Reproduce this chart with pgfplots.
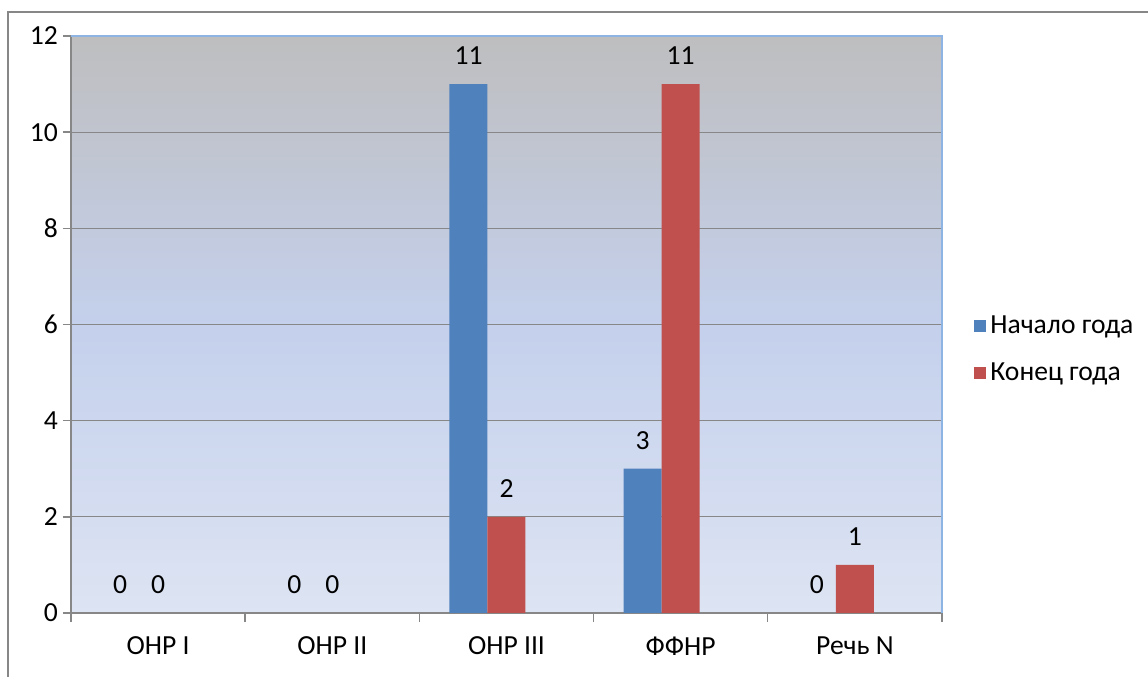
\documentclass[border=0pt]{standalone}
\usepackage{pgfplots}
\pgfplotsset{compat=1.18}
\usepackage{fontspec}
\setmainfont{Carlito}
\definecolor{barblue}{HTML}{4F81BD}
\definecolor{barred}{HTML}{C0504D}
\definecolor{gridgray}{HTML}{878787}
\definecolor{bordblue}{HTML}{8EB4E3}
\definecolor{bgtop}{RGB}{190,190,191}
\definecolor{bgmid}{RGB}{196,208,236}
\definecolor{bgbot}{RGB}{221,228,243}
\begin{document}
\begin{tikzpicture}[font=\fontsize{13.8bp}{16bp}\selectfont]
\path[use as bounding box] (-35.5bp,-32bp) rectangle (538.5bp,306.5bp);
\draw[gridgray, line width=1.2bp] (-31.5bp,-40bp) -- (-31.5bp,300.5bp) -- (545bp,300.5bp);
\begin{axis}[
  at={(0,0)}, anchor=south west,
  scale only axis, width=435.5bp, height=288.5bp,
  xmin=-0.5, xmax=4.5, ymin=0, ymax=12,
  ytick={0,2,...,12},
  xtick={0,...,4},
  xticklabels={ОНР I, ОНР II, ОНР III, ФФНР, Речь N},
  minor xtick={-0.5,0.5,...,4.5},
  tick align=outside,
  major tick length=4bp, minor tick length=4.5bp,
  major x tick style={draw=none},
  tick style={gridgray, line width=0.7bp},
  axis x line*=bottom, axis y line*=left,
  axis line style={-, gridgray, line width=0.8bp},
  ymajorgrids,
  major grid style={gridgray, line width=0.6bp},
  axis background/.style={top color=bgtop, bottom color=bgbot, middle color=bgmid},
  /pgf/number format/assume math mode=true,
  xticklabel style={yshift=-4.5bp},
  yticklabel style={xshift=1bp},
  nodes near coords,
  every node near coord/.append style={anchor=center, yshift=14bp, text=black},
  legend style={draw=none, fill=none, at={(1,0.457)}, anchor=west, xshift=13bp,
    row sep=9bp, legend cell align=left},
  after end axis/.code={\draw[bordblue, line width=1bp] (rel axis cs:0,1) -- (rel axis cs:1,1) -- (rel axis cs:1,0);},
]
\addplot[ybar, bar width=19bp, bar shift=-19bp, fill=barblue, draw=none,
  every node near coord/.append style={xshift=-19bp},
  legend image code/.code={\fill[barblue] (0bp,-3bp) rectangle (6bp,3bp);}]
  coordinates {(0,0) (1,0) (2,11) (3,3) (4,0)};
\addlegendentry{Начало года}
\addplot[ybar, bar width=19bp, bar shift=0bp, fill=barred, draw=none,
  legend image code/.code={\fill[barred] (0bp,-3bp) rectangle (6bp,3bp);}]
  coordinates {(0,0) (1,0) (2,2) (3,11) (4,1)};
\addlegendentry{Конец года}
\end{axis}
\end{tikzpicture}
\end{document}
